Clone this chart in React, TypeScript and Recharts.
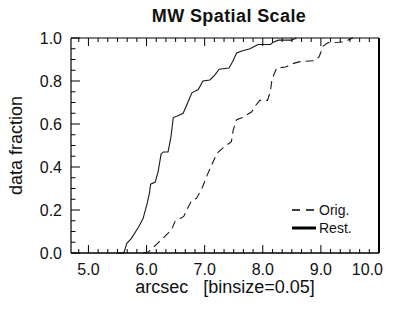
import { LineChart, Line, XAxis, YAxis, Legend } from "recharts";

const FONT = '"Liberation Sans", Arial, Helvetica, sans-serif';
const INK = "#111";

// Rest. curve (cumulative data fraction vs arcsec)
const restX = [5.5, 5.61, 5.66, 5.74, 5.86, 5.94, 6.01, 6.05, 6.07, 6.15, 6.2, 6.25, 6.29, 6.37, 6.42, 6.46, 6.55, 6.63, 6.71, 6.78, 6.89, 6.97, 7.09, 7.18, 7.25, 7.42, 7.48, 7.55, 7.64, 7.78, 7.87, 7.92, 8.13, 8.18, 8.27, 8.5, 8.58];
const restY = [0, 0, 0.045, 0.068, 0.12, 0.16, 0.23, 0.28, 0.32, 0.33, 0.38, 0.46, 0.47, 0.47, 0.54, 0.63, 0.64, 0.65, 0.7, 0.745, 0.76, 0.8, 0.805, 0.83, 0.855, 0.86, 0.89, 0.93, 0.94, 0.95, 0.963, 0.97, 0.97, 0.98, 0.99, 0.99, 1.0];

// Orig. curve
const origX = [5.94, 6.03, 6.19, 6.32, 6.43, 6.49, 6.64, 6.72, 6.78, 6.86, 6.96, 7.04, 7.13, 7.21, 7.32, 7.46, 7.49, 7.55, 7.65, 7.81, 7.87, 7.95, 8.08, 8.13, 8.16, 8.24, 8.39, 8.53, 8.64, 8.9, 8.97, 9.04, 9.12, 9.3, 9.4, 9.46, 9.55];
const origY = [0, 0.005, 0.045, 0.078, 0.108, 0.147, 0.17, 0.215, 0.246, 0.254, 0.305, 0.36, 0.415, 0.463, 0.49, 0.518, 0.57, 0.62, 0.63, 0.657, 0.684, 0.71, 0.71, 0.75, 0.81, 0.86, 0.865, 0.882, 0.89, 0.895, 0.913, 0.962, 0.978, 0.98, 0.982, 0.99, 1.0];

const xMajor = [5, 6, 7, 8, 9, 10];
const xLabels = ["5.0", "6.0", "7.0", "8.0", "9.0", "10.0"];
const yMajor = [0, 0.2, 0.4, 0.6, 0.8, 1.0];
const yLabels = ["0.0", "0.2", "0.4", "0.6", "0.8", "1.0"];

// one table on the union of x values, each curve joined over its gaps
const allX = Array.from(new Set([...restX, ...origX])).sort((a, b) => a - b);
const table = allX.map((x) => {
  const r = restX.indexOf(x);
  const o = origX.indexOf(x);
  return { x, rest: r >= 0 ? restY[r] : null, orig: o >= 0 ? origY[o] : null };
});

// minor ticks: 1/6 arcsec on x, 0.05 on y
const xTicks: number[] = [];
for (let i = 29; i <= 60; i++) xTicks.push(i / 6);
const yTicks: number[] = [];
for (let i = 0; i <= 20; i++) yTicks.push(i / 20);

const majorIdx = (arr: number[], v: number) => arr.findIndex((m) => Math.abs(m - v) < 1e-6);

function BottomTick({ x, y, payload }: any) {
  const i = majorIdx(xMajor, payload.value);
  const last = i === xMajor.length - 1;
  return (
    <g>
      <path d={`M${x},${y}V${y - (i >= 0 ? 8 : 4)}`} stroke="#000" fill="none" />
      {i >= 0 && (
        <text x={last ? x + 4 : x} y={y + 22} textAnchor={last ? "end" : "middle"} fontFamily={FONT} fontSize={16} fill={INK}>
          {xLabels[i]}
        </text>
      )}
    </g>
  );
}

function TopTick({ x, y, payload }: any) {
  const i = majorIdx(xMajor, payload.value);
  return <path d={`M${x},${y}V${y + (i >= 0 ? 8 : 4)}`} stroke="#000" fill="none" />;
}

function LeftTick({ x, y, payload }: any) {
  const i = majorIdx(yMajor, payload.value);
  return (
    <g>
      <path d={`M${x},${y}H${x + (i >= 0 ? 9 : 4.5)}`} stroke="#000" fill="none" />
      {i >= 0 && (
        <text x={x - 9} y={y + 6} textAnchor="end" fontFamily={FONT} fontSize={16} fill={INK}>
          {yLabels[i]}
        </text>
      )}
    </g>
  );
}

function RightTick({ x, y, payload }: any) {
  const i = majorIdx(yMajor, payload.value);
  return <path d={`M${x},${y}H${x - (i >= 0 ? 9 : 4.5)}`} stroke="#000" fill="none" />;
}

function LegendBox() {
  return (
    <svg width={70} height={36}>
      <path d="M2,8H26" stroke="#000" strokeWidth={1.3} strokeDasharray="8 6" />
      <text x={29} y={13} fontFamily={FONT} fontSize={14} fill={INK}>Orig.</text>
      <path d="M2,26H26" stroke="#000" strokeWidth={3} />
      <text x={29} y={31} fontFamily={FONT} fontSize={14} fill={INK}>Rest.</text>
    </svg>
  );
}

export default function App() {
  return (
    <div style={{ position: "absolute", left: 0, top: 0, width: 398, height: 310 }}>
      <div style={{ position: "absolute", left: 229, top: 6, transform: "translateX(-50%)", fontFamily: FONT, fontSize: 18, fontWeight: "bold", letterSpacing: 0.4, color: INK }}>
        MW Spatial Scale
      </div>
      <LineChart width={398} height={310} data={table} margin={{ top: 37, right: 18, bottom: 0, left: 0 }}>
        <XAxis dataKey="x" type="number" domain={[4.7, 10]} ticks={xTicks} interval={0} height={57} tickSize={0} tickMargin={0} tick={<BottomTick />}
          axisLine={{ stroke: "#000", strokeWidth: 1.5 }}
          label={{ value: "arcsec\u00a0\u00a0\u00a0[binsize=0.05]", position: "insideBottom", offset: 17, fontFamily: FONT, fontSize: 18, fill: INK }} />
        <XAxis xAxisId="top" orientation="top" dataKey="x" type="number" domain={[4.7, 10]} ticks={xTicks} interval={0} height={1} tickSize={0} tickMargin={0} tick={<TopTick />}
          axisLine={{ stroke: "#000", strokeWidth: 1.2 }} />
        <YAxis type="number" domain={[0, 1]} ticks={yTicks} interval={0} width={71} tickSize={0} tickMargin={0} tick={<LeftTick />}
          axisLine={{ stroke: "#000", strokeWidth: 1.2 }}
          label={{ value: "data fraction", angle: -90, position: "insideLeft", offset: 16, fontFamily: FONT, fontSize: 18, fill: INK, style: { textAnchor: "middle" } }} />
        <YAxis yAxisId="right" orientation="right" type="number" domain={[0, 1]} ticks={yTicks} interval={0} width={1} tickSize={0} tickMargin={0} tick={<RightTick />}
          axisLine={{ stroke: "#000", strokeWidth: 2 }} />
        <Legend layout="horizontal" verticalAlign="middle" align="center" content={<LegendBox />}
          wrapperStyle={{ position: "absolute", left: 290, top: 202, width: 70, height: 36 }} />
        <Line dataKey="orig" name="Orig." type="linear" connectNulls stroke="#1a1a1a" strokeWidth={1.1} strokeDasharray="8 5" dot={false} isAnimationActive={false} />
        <Line dataKey="rest" name="Rest." type="linear" connectNulls stroke="#1a1a1a" strokeWidth={1.1} dot={false} isAnimationActive={false} />
      </LineChart>
    </div>
  );
}
